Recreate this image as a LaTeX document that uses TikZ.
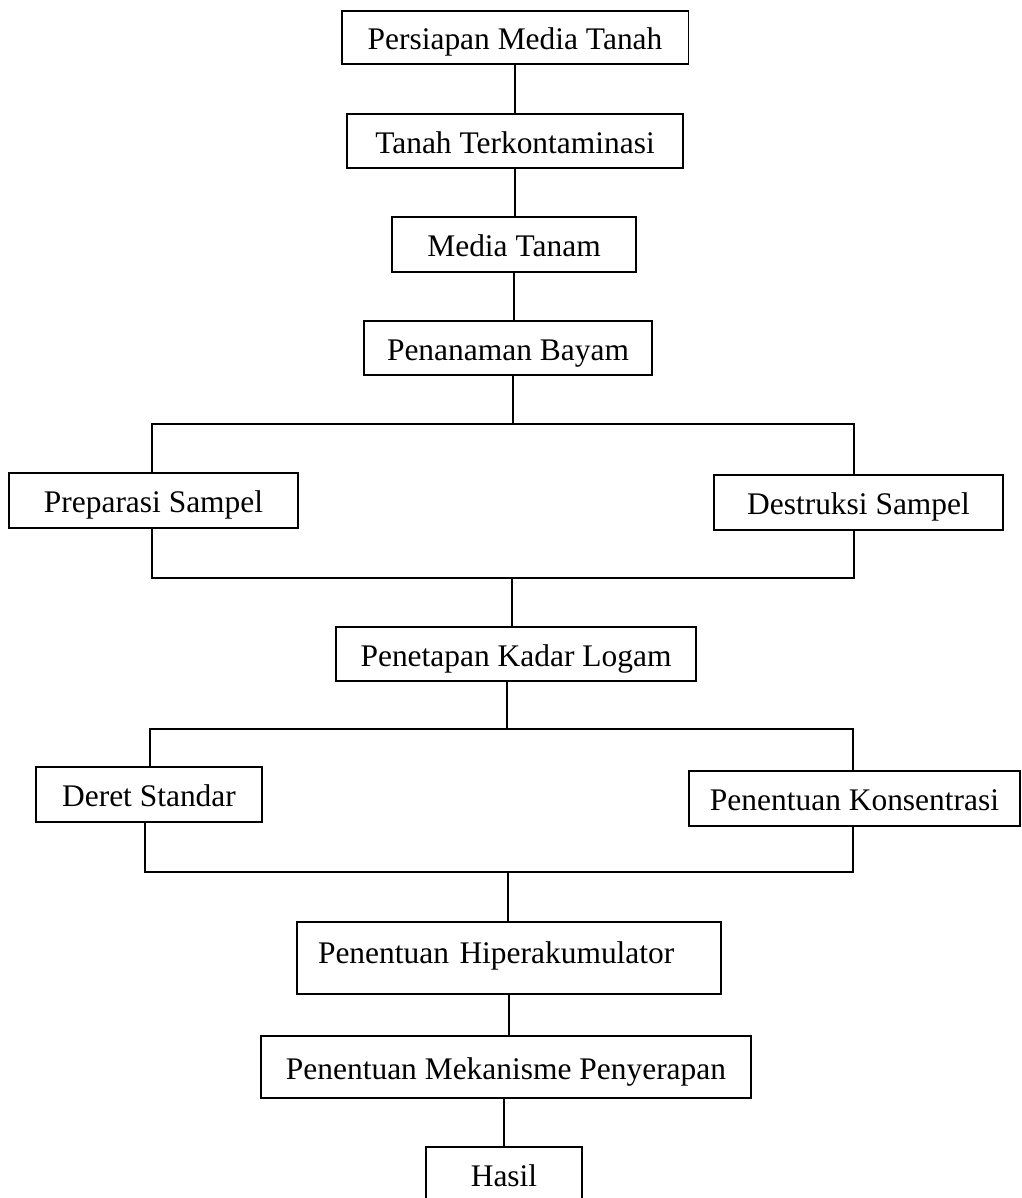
\documentclass[tikz,border=0pt]{standalone}
\usepackage{fontspec}
\setmainfont{Liberation Serif}
\usepackage{tikz}
\tikzstyle{box} = [draw=black, line width=1.1pt, inner sep=0pt, text height=17pt, text depth=2.8pt, font={\fontsize{17.9pt}{21pt}\selectfont}]
\tikzstyle{link} = [draw=black, line width=1.1pt]

\begin{document}
\begin{tikzpicture}[x=0.02cm,y=-0.02cm]
        \useasboundingbox (0,0) rectangle (1022,1198);
        \node[box,minimum width=6.94cm,minimum height=1.06cm](persiapan) at (515,37.5){Persiapan Media Tanah};
        \node[box,minimum width=6.72cm,minimum height=1.08cm](tanah) at (515,141){Tanah Terkontaminasi};
        \node[box,minimum width=4.88cm,minimum height=1.10cm](media) at (514,244.5){Media Tanam};
        \node[box,minimum width=5.76cm,minimum height=1.08cm](penanaman) at (508,348){Penanaman Bayam};
        \node[box,minimum width=5.78cm,minimum height=1.10cm](preparasi) at (153.5,500.5){Preparasi Sampel};
        \node[box,minimum width=5.78cm,minimum height=1.10cm](destruksi) at (858.5,502.5){Destruksi Sampel};
        \node[box,minimum width=7.20cm,minimum height=1.08cm](penetapan) at (516,654){Penetapan Kadar Logam};
        \node[box,minimum width=4.52cm,minimum height=1.10cm](deret) at (149,794.5){Deret Standar};
        \node[box,minimum width=6.62cm,minimum height=1.10cm](konsentrasi) at (854.5,798.5){Penentuan Konsentrasi};
        \node[box,minimum width=8.48cm,minimum height=1.44cm,text width=7.64cm,inner xsep=0.42cm,align=left,text depth=11.3pt](hiper) at (509,958){Penentuan Hiperakumulator};
        \node[box,minimum width=9.80cm,minimum height=1.24cm](mekanisme) at (506,1067){Penentuan Mekanisme Penyerapan};
        \node[box,minimum width=3.12cm,minimum height=1.10cm](hasil) at (504,1174.5){Hasil};
        % branch and join points
        \coordinate (s1) at (513,424);
        \coordinate (s1l) at (152,424);
        \coordinate (s1r) at (854,424);
        \coordinate (j1) at (512,578);
        \coordinate (j1l) at (152,578);
        \coordinate (j1r) at (854,578);
        \coordinate (s2) at (507,729);
        \coordinate (s2l) at (150,729);
        \coordinate (s2r) at (853,729);
        \coordinate (j2) at (508,872);
        \coordinate (j2l) at (145,872);
        \coordinate (j2r) at (853,872);
        \draw[link](persiapan)--(persiapan |- tanah.north);
        \draw[link](tanah)--(tanah |- media.north);
        \draw[link](media)--(media |- penanaman.north);
        \draw[link](s1 |- penanaman.south)--(s1);
        \draw[link](s1l |- preparasi.north)--(s1l)--(s1r)--(s1r |- destruksi.north);
        \draw[link](j1l |- preparasi.south)--(j1l)--(j1r)--(j1r |- destruksi.south);
        \draw[link](j1)--(j1 |- penetapan.north);
        \draw[link](s2 |- penetapan.south)--(s2);
        \draw[link](s2l |- deret.north)--(s2l)--(s2r)--(s2r |- konsentrasi.north);
        \draw[link](j2l |- deret.south)--(j2l)--(j2r)--(j2r |- konsentrasi.south);
        \draw[link](j2)--(j2 |- hiper.north);
        \draw[link](hiper)--(hiper |- mekanisme.north);
        \draw[link](hasil |- mekanisme.south)--(hasil.north);
      \end{tikzpicture}
\end{document}
